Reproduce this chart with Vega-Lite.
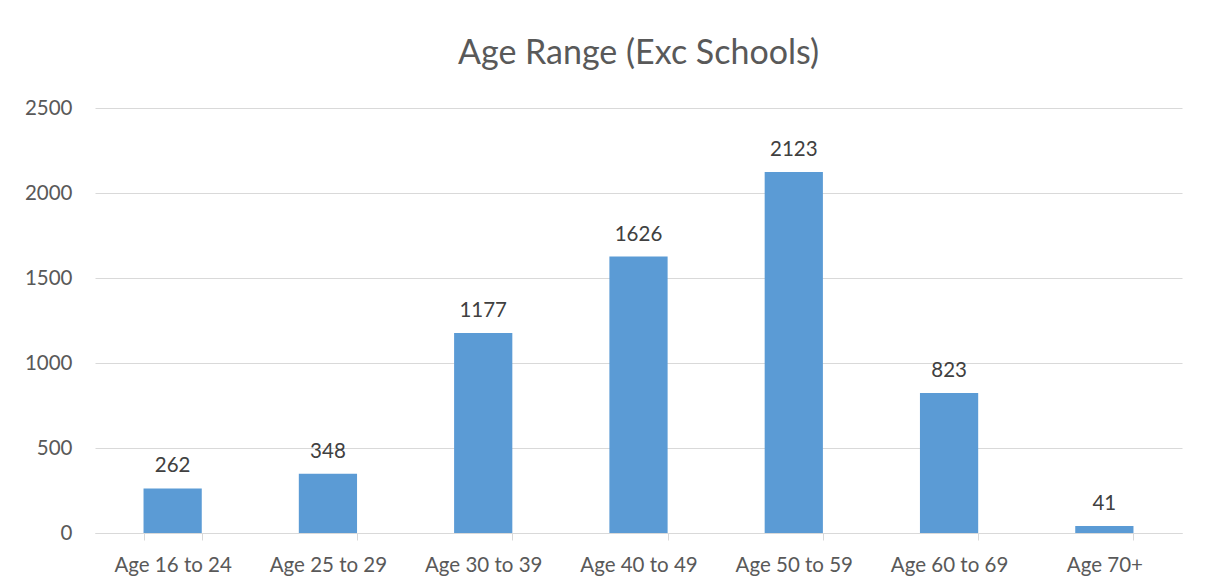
{
  "$schema": "https://vega.github.io/schema/vega-lite/v6.json",
  "width": 1087,
  "height": 425,
  "autosize": {"type": "none"},
  "padding": {"left": 95, "top": 108, "right": 23, "bottom": 55},
  "background": "white",
  "title": {
    "text": "Age Range (Exc Schools)",
    "font": "Lato",
    "fontSize": 34,
    "fontWeight": "normal",
    "color": "#595959",
    "anchor": "middle",
    "offset": 27
  },
  "data": {
    "values": [
      {"age": "Age 16 to 24", "count": 262},
      {"age": "Age 25 to 29", "count": 348},
      {"age": "Age 30 to 39", "count": 1177},
      {"age": "Age 40 to 49", "count": 1626},
      {"age": "Age 50 to 59", "count": 2123},
      {"age": "Age 60 to 69", "count": 823},
      {"age": "Age 70+", "count": 41}
    ]
  },
  "config": {
    "view": {"stroke": null},
    "font": "Lato"
  },
  "encoding": {
    "x": {
      "field": "age",
      "type": "nominal",
      "sort": null,
      "scale": {"paddingInner": 0.625, "paddingOuter": 0.3125},
      "axis": {
        "title": null,
        "labelAngle": 0,
        "labelFont": "Lato",
        "labelFontSize": 20.5,
        "labelColor": "#595959",
        "labelPadding": 15,
        "domainColor": "#d9d9d9",
        "tickColor": "#d9d9d9",
        "tickSize": 7,
        "tickBand": "extent",
        "grid": false
      }
    },
    "y": {
      "field": "count",
      "type": "quantitative",
      "scale": {"domain": [0, 2500]},
      "axis": {
        "title": null,
        "values": [0, 500, 1000, 1500, 2000, 2500],
        "format": "d",
        "labelFont": "Lato",
        "labelFontSize": 20.5,
        "labelColor": "#595959",
        "labelPadding": 23,
        "domain": false,
        "ticks": false,
        "gridColor": "#d9d9d9",
        "gridWidth": 1
      }
    }
  },
  "layer": [
    {"mark": {"type": "bar", "color": "#5b9bd5"}},
    {
      "mark": {"type": "text", "baseline": "alphabetic", "dy": -16, "fontSize": 20.5, "color": "#404040", "font": "Lato"},
      "encoding": {"text": {"field": "count", "type": "quantitative"}}
    }
  ]
}
